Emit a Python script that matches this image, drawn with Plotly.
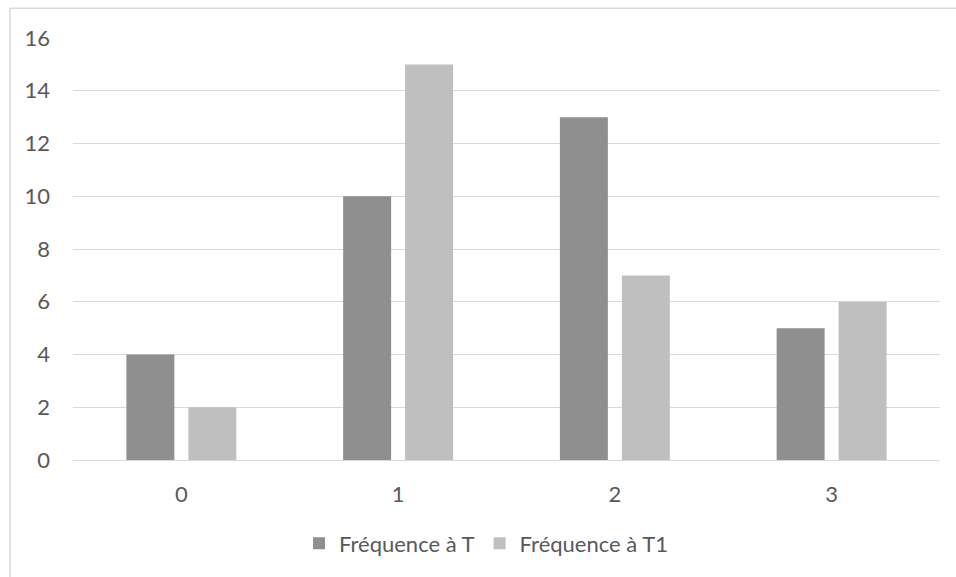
import plotly.graph_objects as go

categories = ["0", "1", "2", "3"]
freq_t = [4, 10, 13, 5]
freq_t1 = [2, 15, 7, 6]
series_names = ["Fréquence à T", "Fréquence à T1"]
y_ticks = [0, 2, 4, 6, 8, 10, 12, 14, 16]

FONT = "Lato"
TXT = "#595959"
GRID = "#d9d9d9"
FS = 22

fig = go.Figure()
fig.add_trace(go.Bar(x=categories, y=freq_t, name=series_names[0],
                     marker=dict(color="#8f8f8f", line=dict(width=0))))
fig.add_trace(go.Bar(x=categories, y=freq_t1, name=series_names[1],
                     marker=dict(color="#bfbfbf", line=dict(width=0))))

fig.update_layout(
    width=956, height=577,
    margin=dict(l=73, r=16, t=38, b=115),
    paper_bgcolor="white", plot_bgcolor="white",
    barmode="group", bargap=0.428, bargroupgap=0.226,
    font=dict(family=FONT, color=TXT, size=FS),
    showlegend=True,
    legend=dict(orientation="h", x=(317 - 18 - 73) / 867, xanchor="left", y=-0.198, yanchor="middle",
                font=dict(family=FONT, size=FS, color=TXT), itemwidth=30,
                traceorder="normal"),
    xaxis=dict(type="category", showgrid=False, showline=False, ticks="",
               ticklabelstandoff=19, tickfont=dict(size=FS, color=TXT)),
    yaxis=dict(range=[0, 16], tickvals=y_ticks, showgrid=True, gridcolor=GRID, gridwidth=1,
               zeroline=True, zerolinecolor=GRID, zerolinewidth=1, showline=False,
               ticks="", ticklabelstandoff=22, tickfont=dict(size=FS, color=TXT)),
    shapes=[dict(type="rect", xref="paper", yref="paper",
                 x0=(10 - 73) / 867, x1=1.2, y0=-0.5, y1=1 + 30 / 424,
                 line=dict(color=GRID, width=1.5), layer="below")],
)

fig.write_html("out.html", config={"displayModeBar": False},
               post_script="document.body.style.margin='0px';")
